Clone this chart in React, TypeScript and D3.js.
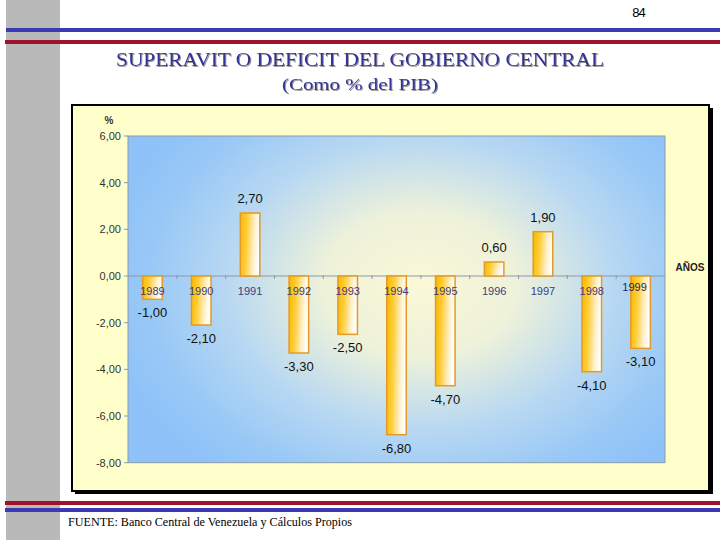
import React from "react";
import * as d3 from "d3";

const years = ["1989","1990","1991","1992","1993","1994","1995","1996","1997","1998","1999"];
const values = [-1.0, -2.1, 2.7, -3.3, -2.5, -6.8, -4.7, 0.6, 1.9, -4.1, -3.1];
const yTicks = [6, 4, 2, 0, -2, -4, -6, -8];
const title = "SUPERAVIT O DEFICIT DEL GOBIERNO CENTRAL";
const subtitle = "(Como % del PIB)";
const source = "FUENTE:  Banco Central de Venezuela y Cálculos Propios";
const pageNo = "84";

const fmt = (v: number) => v.toFixed(2).replace(".", ",");

export default function App() {
  const W = 720, H = 540;
  const plot = { left: 128, top: 136, right: 665, bottom: 462.7 };
  const x = d3.scaleBand<string>().domain(years).range([plot.left, plot.right]).paddingInner(0.6).paddingOuter(0.3);
  const xb = d3.scaleBand<string>().domain(years).range([plot.left, plot.right]);
  const y = d3.scaleLinear().domain([-8, 6]).range([plot.bottom, plot.top]);
  const sans = "Liberation Sans, Arial, sans-serif";
  const serif = "Liberation Serif, Times New Roman, serif";
  return (
    <svg width={W} height={H} style={{ position: "absolute", left: 0, top: 0, background: "#fff" }}>
      <defs>
        <radialGradient id="bg" gradientUnits="userSpaceOnUse" cx={420} cy={285} r={320}
          gradientTransform="translate(420 285) scale(1 0.75) translate(-420 -285)">
          <stop offset="0" stopColor="#FAF8D6" />
          <stop offset="0.3" stopColor="#EEF2DA" />
          <stop offset="0.6" stopColor="#B8D8F2" />
          <stop offset="0.85" stopColor="#98C8F6" />
          <stop offset="1" stopColor="#8EC2F8" />
        </radialGradient>
        <linearGradient id="bar" x1="0" y1="0" x2="1" y2="0.15">
          <stop offset="0" stopColor="#F7B800" />
          <stop offset="0.35" stopColor="#FFCC33" />
          <stop offset="0.75" stopColor="#FFF0C8" />
          <stop offset="1" stopColor="#FFFFFF" />
        </linearGradient>
        <filter id="sh" x="-5%" y="-20%" width="110%" height="140%">
          <feDropShadow dx="1" dy="1" stdDeviation="0.6" floodColor="#777" floodOpacity="0.8" />
        </filter>
      </defs>
      <rect x={6} y={0} width={54} height={H} fill="#B9B9B9" />
      <rect x={6} y={28} width={W - 6} height={4} fill="#3A3AB4" />
      <rect x={5} y={40} width={W - 5} height={4} fill="#A0122C" />
      <rect x={5} y={501} width={W - 5} height={4} fill="#A0122C" />
      <rect x={5} y={508} width={W - 5} height={4} fill="#3A3AB4" />

      <text x={645} y={17} textAnchor="end" fontFamily={sans} fontSize={13} letterSpacing={-0.8}>{pageNo}</text>
      <text x={360} y={66} textAnchor="middle" fontFamily={serif} fontSize={18} fill="#33339A"
        textLength={488} lengthAdjust="spacingAndGlyphs" filter="url(#sh)">{title}</text>
      <text x={360} y={90} textAnchor="middle" fontFamily={serif} fontSize={17} fill="#33339A"
        textLength={156} lengthAdjust="spacingAndGlyphs" filter="url(#sh)">{subtitle}</text>

      <rect x={75} y={108} width={638} height={386} fill="#000" />
      <rect x={72} y={105} width={637} height={386} fill="#FFFFCC" stroke="#000" strokeWidth={2} />

      <rect x={plot.left} y={plot.top} width={plot.right - plot.left} height={plot.bottom - plot.top}
        fill="url(#bg)" stroke="#8A9AAA" strokeWidth={1} />
      <line x1={plot.left} x2={plot.right} y1={y(0)} y2={y(0)} stroke="#8A9AAA" strokeWidth={1} />
      {years.slice(1).map((yr) => (
        <line key={"t" + yr} x1={xb(yr)!} x2={xb(yr)!} y1={y(0) - 1} y2={y(0) + 3} stroke="#8A9AAA" strokeWidth={1} />
      ))}
      {yTicks.map((t) => (
        <g key={"y" + t}>
          <line x1={plot.left - 4} x2={plot.left} y1={y(t)} y2={y(t)} stroke="#8A9AAA" />
          <text x={121} y={y(t) + 4} textAnchor="end" fontFamily={sans} fontSize={11} fill="#333">{fmt(t)}</text>
        </g>
      ))}
      <text x={109} y={124} textAnchor="middle" fontFamily={sans} fontSize={10} fontWeight="bold" fill="#333">%</text>
      <text x={690} y={271} textAnchor="middle" fontFamily={sans} fontSize={10} fontWeight="bold" fill="#222">AÑOS</text>

      {years.map((yr, i) => {
        const v = values[i];
        const bx = x(yr)!;
        const bw = x.bandwidth();
        const top = y(Math.max(0, v));
        const h = Math.abs(y(v) - y(0));
        const cx = bx + bw / 2;
        const last = i === years.length - 1;
        return (
          <g key={yr}>
            <rect x={bx} y={top} width={bw} height={h} fill="url(#bar)" stroke="#E39A28" strokeWidth={1.5} />
            <text x={last ? cx - 6 : cx} y={y(0) + (last ? 15 : 19)} textAnchor="middle" fontFamily={sans}
              fontSize={11} fill={last ? "#23236A" : "#3C3C80"}>{yr}</text>
            <text x={cx} y={v >= 0 ? y(v) - 10 : y(v) + 18} textAnchor="middle" fontFamily={sans}
              fontSize={13} fill="#111">{fmt(v)}</text>
          </g>
        );
      })}

      <text x={68} y={526} fontFamily={serif} fontSize={12} fill="#000"
        textLength={284} lengthAdjust="spacingAndGlyphs">{source}</text>
    </svg>
  );
}
